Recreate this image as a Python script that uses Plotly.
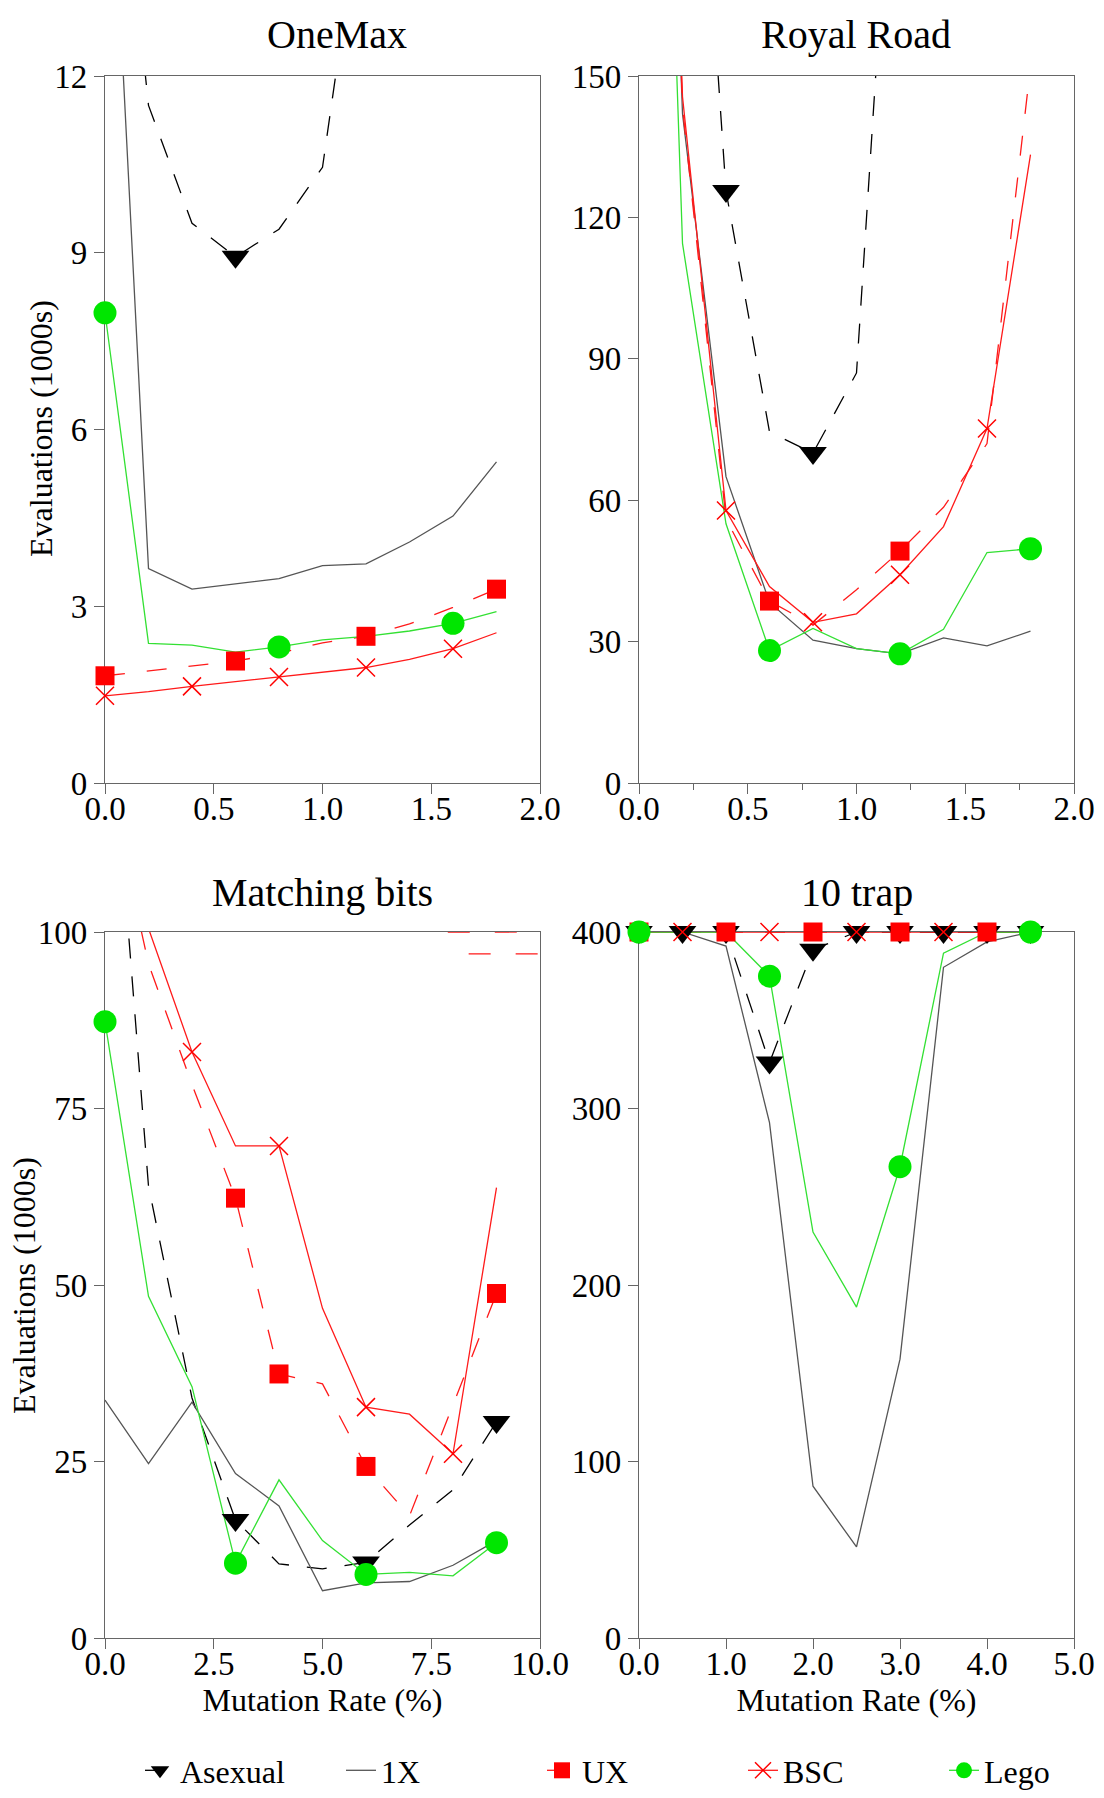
import plotly.graph_objects as go

FONT = "Liberation Serif, Times New Roman, serif"

# ---------------- data ----------------
series_names = ["Asexual", "1X", "UX", "BSC", "Lego"]

# OneMax
om_x = [0.0, 0.2, 0.4, 0.6, 0.8, 1.0, 1.2, 1.4, 1.6, 1.8]
om_asexual = [18.6, 11.5, 9.5, 8.93, 9.4, 10.45, 15.6, 22.0, 30.0, 40.0]
om_1x = [18.1, 3.64, 3.29, 3.38, 3.47, 3.69, 3.72, 4.09, 4.53, 5.45]
om_ux = [1.82, 1.90, 1.98, 2.07, 2.20, 2.38, 2.49, 2.70, 2.98, 3.29]
om_bsc = [1.48, 1.55, 1.64, 1.72, 1.80, 1.88, 1.96, 2.10, 2.28, 2.55]
om_lego = [7.98, 2.37, 2.34, 2.22, 2.31, 2.43, 2.49, 2.58, 2.71, 2.91]

# Royal Road
rr_x = [0.0, 0.2, 0.4, 0.6, 0.8, 1.0, 1.2, 1.4, 1.6, 1.8]
rr_asexual = [400, 261, 125.6, 74.5, 70.0, 87.0, 230, 300, 350, 400]
rr_1x = [400, 142, 65.0, 38.3, 30.3, 28.5, 27.4, 30.8, 29.1, 32.2]
rr_ux = [400, 143.4, 56.0, 38.6, 33.5, 41.0, 49.2, 58.5, 72.0, 152]
rr_bsc = [400, 145.6, 57.8, 41.7, 34.1, 35.9, 44.2, 54.4, 75.2, 133.3]
rr_lego = [387, 114.5, 55.0, 28.1, 32.8, 28.5, 27.4, 32.6, 48.9, 49.7]

# Matching bits
mb_x = [0, 1, 2, 3, 4, 5, 6, 7, 8, 9]
mb_asexual = [142, 64.0, 34.0, 16.7, 10.5, 9.8, 10.7, 16.0, 21.0, 30.6]
mb_1x = [33.7, 24.7, 33.4, 23.3, 18.7, 6.7, 7.8, 8.0, 10.3, 13.8]
mb_ux = [123.5, 95.5, 78.4, 62.3, 37.4, 36.0, 24.3, 17.3, 33.0, 48.8]
mb_bsc = [130, 100.5, 83.0, 69.7, 69.7, 46.7, 32.7, 31.7, 26.1, 63.8]
mb_lego = [87.3, 48.4, 35.6, 10.6, 22.4, 13.8, 9.0, 9.3, 8.8, 13.5]
mb_extra_a_x = [7.88, 9.47]
mb_extra_a_y = [100, 100]
mb_extra_b_x = [8.36, 9.95]
mb_extra_b_y = [96.9, 96.9]

# 10 trap
tr_x = [0.0, 0.5, 1.0, 1.5, 2.0, 2.5, 3.0, 3.5, 4.0, 4.5]
tr_asexual = [400, 400, 400, 326, 390, 400, 400, 400, 400, 400]
tr_1x = [400, 400, 392, 292, 86, 51.6, 158, 380, 394.4, 400]
tr_ux = [400, 400, 400, 400, 400, 400, 400, 400, 400, 400]
tr_bsc = [400, 400, 400, 400, 400, 400, 400, 400, 400, 400]
tr_lego = [400, 400, 400, 375, 230, 187.5, 267, 388, 400, 400]

# tick labels
om_yticks = [0, 3, 6, 9, 12]
rr_yticks = [0, 30, 60, 90, 120, 150]
mb_yticks = [0, 25, 50, 75, 100]
tr_yticks = [0, 100, 200, 300, 400]

# ---------------- styles ----------------
styles = {
    "Asexual": dict(color="black", dash="20px,18px", symbol="triangle-down", size=24, mcolor="black"),
    "1X": dict(color="#555555", dash="solid", symbol=None, size=0, mcolor="#555555"),
    "UX": dict(color="#ff1a1a", dash="20px,22px", symbol="square", size=19, mcolor="#ff0000"),
    "BSC": dict(color="#ff1a1a", dash="solid", symbol="x-thin-open", size=18, mcolor="#ff0000"),
    "Lego": dict(color="#33e033", dash="solid", symbol="circle", size=23, mcolor="#00e600"),
}

panels = [
    dict(x=om_x, ys=[om_asexual, om_1x, om_ux, om_bsc, om_lego],
         marks={"Asexual": [3], "UX": [0, 3, 6, 9], "BSC": [0, 2, 4, 6, 8], "Lego": [0, 4, 8]},
         xr=[0, 2], xd=0.5, yr=[0, 12], yt=om_yticks, title="OneMax"),
    dict(x=rr_x, ys=[rr_asexual, rr_1x, rr_ux, rr_bsc, rr_lego],
         marks={"Asexual": [2, 4], "UX": [3, 6], "BSC": [2, 4, 6, 8], "Lego": [3, 6, 9]},
         xr=[0, 2], xd=0.5, yr=[0, 150], yt=rr_yticks, title="Royal Road"),
    dict(x=mb_x, ys=[mb_asexual, mb_1x, mb_ux, mb_bsc, mb_lego],
         marks={"Asexual": [3, 6, 9], "UX": [3, 4, 6, 9], "BSC": [2, 4, 6, 8], "Lego": [0, 3, 6, 9]},
         xr=[0, 10], xd=2.5, yr=[0, 100], yt=mb_yticks, title="Matching bits"),
    dict(x=tr_x, ys=[tr_asexual, tr_1x, tr_ux, tr_bsc, tr_lego],
         marks={"Asexual": list(range(10)), "UX": [0, 2, 4, 6, 8], "BSC": [1, 3, 5, 7], "Lego": [0, 3, 6, 9]},
         xr=[0, 5], xd=1.0, yr=[0, 400], yt=tr_yticks, title="10 trap"),
]

W, H = 1104, 1798
xdoms = [[105 / W, 540 / W], [639 / W, 1074 / W], [105 / W, 540 / W], [639 / W, 1074 / W]]
ydoms = [[(H - 783) / H, (H - 76) / H], [(H - 783) / H, (H - 76) / H],
         [(H - 1638) / H, (H - 932) / H], [(H - 1638) / H, (H - 932) / H]]
title_pos = [(337 / W, (H - 34) / H), (856 / W, (H - 34) / H),
             (322 / W, (H - 892) / H), (857 / W, (H - 892) / H)]
ytitle_pos = {0: (41 / W, (H - 429) / H), 2: (24 / W, (H - 1286) / H)}

fig = go.Figure()

for pi, p in enumerate(panels):
    xa = "x" if pi == 0 else f"x{pi + 1}"
    ya = "y" if pi == 0 else f"y{pi + 1}"
    # lines
    for name, ys in zip(series_names, p["ys"]):
        st = styles[name]
        fig.add_trace(go.Scatter(x=p["x"], y=ys, mode="lines", xaxis=xa, yaxis=ya,
                                 line=dict(color=st["color"], width=1.3, dash=st["dash"]),
                                 showlegend=False, hoverinfo="skip"))
    if pi == 2:
        for ex, ey in [(mb_extra_a_x, mb_extra_a_y), (mb_extra_b_x, mb_extra_b_y)]:
            fig.add_trace(go.Scatter(x=ex, y=ey, mode="lines", xaxis=xa, yaxis=ya,
                                     line=dict(color="#ff1a1a", width=1.3, dash="22px,25px"),
                                     showlegend=False, hoverinfo="skip"))
    # markers
    for name, ys in zip(series_names, p["ys"]):
        st = styles[name]
        if st["symbol"] is None:
            continue
        idx = p["marks"][name]
        mk = dict(symbol=st["symbol"], size=st["size"], color=st["mcolor"])
        if st["symbol"] == "x-thin-open":
            mk["line"] = dict(color=st["mcolor"], width=1.5)
        else:
            mk["line"] = dict(width=0)
        fig.add_trace(go.Scatter(x=[p["x"][i] for i in idx], y=[ys[i] for i in idx],
                                 mode="markers", xaxis=xa, yaxis=ya, marker=mk,
                                 cliponaxis=False, showlegend=False, hoverinfo="skip"))

# legend entries
for name in series_names:
    st = styles[name]
    if st["symbol"] is None:
        fig.add_trace(go.Scatter(x=[None], y=[None], mode="lines", name=name,
                                 line=dict(color=st["color"], width=1.3)))
    else:
        mk = dict(symbol=st["symbol"], size=st["size"], color=st["mcolor"])
        if st["symbol"] == "x-thin-open":
            mk["line"] = dict(color=st["mcolor"], width=1.5)
        else:
            mk["line"] = dict(width=0)
        fig.add_trace(go.Scatter(x=[None], y=[None], mode="lines+markers", name=name,
                                 line=dict(color=st["color"], width=1.3, dash=st["dash"]),
                                 marker=mk))

axis_common = dict(showgrid=False, zeroline=False, showline=True, mirror=True,
                   linecolor="#666666", linewidth=1.3, ticks="outside", ticklen=10,
                   tickwidth=1.3, tickcolor="#666666", layer="below traces", automargin=False,
                   tickfont=dict(family=FONT, size=33, color="black"))

layout = dict(template="none", width=W, height=H,
              margin=dict(l=0, r=0, t=0, b=0, autoexpand=False),
              paper_bgcolor="white", plot_bgcolor="white",
              font=dict(family=FONT, size=30, color="black"),
              showlegend=True,
              legend=dict(orientation="h", x=140 / W, xanchor="left", y=0.0,
                          yanchor="bottom", font=dict(family=FONT, size=32),
                          entrywidth=156, entrywidthmode="pixels", bgcolor="rgba(0,0,0,0)"),
              annotations=[])

for pi, p in enumerate(panels):
    xk = "xaxis" if pi == 0 else f"xaxis{pi + 1}"
    yk = "yaxis" if pi == 0 else f"yaxis{pi + 1}"
    ya = "y" if pi == 0 else f"y{pi + 1}"
    xa = "x" if pi == 0 else f"x{pi + 1}"
    xax = dict(axis_common, domain=xdoms[pi], range=p["xr"], dtick=p["xd"], tick0=0,
               tickformat=".1f", anchor=ya, ticklabelstandoff=-14)
    if pi == 1:
        xax["minor"] = dict(dtick=0.25, ticks="outside", ticklen=6, tickcolor="#666666", tickwidth=1.3)
    if pi >= 2:
        xax["title"] = dict(text="Mutation Rate (%)", font=dict(family=FONT, size=32), standoff=5)
    yax = dict(axis_common, domain=ydoms[pi], range=p["yr"], tickvals=p["yt"], anchor=xa)
    layout[xk] = xax
    layout[yk] = yax
    tx, ty = title_pos[pi]
    layout["annotations"].append(dict(text=p["title"], x=tx, y=ty, xref="paper", yref="paper",
                                      xanchor="center", yanchor="middle", showarrow=False,
                                      font=dict(family=FONT, size=40, color="black")))
    if pi in ytitle_pos:
        yx, yy = ytitle_pos[pi]
        layout["annotations"].append(dict(text="Evaluations (1000s)", x=yx, y=yy, xref="paper",
                                          yref="paper", xanchor="center", yanchor="middle",
                                          textangle=-90, showarrow=False,
                                          font=dict(family=FONT, size=32, color="black")))

fig.update_layout(**layout)
fig.write_html("out.html", config={"displayModeBar": False},
               post_script="document.body.style.margin='0px';")
